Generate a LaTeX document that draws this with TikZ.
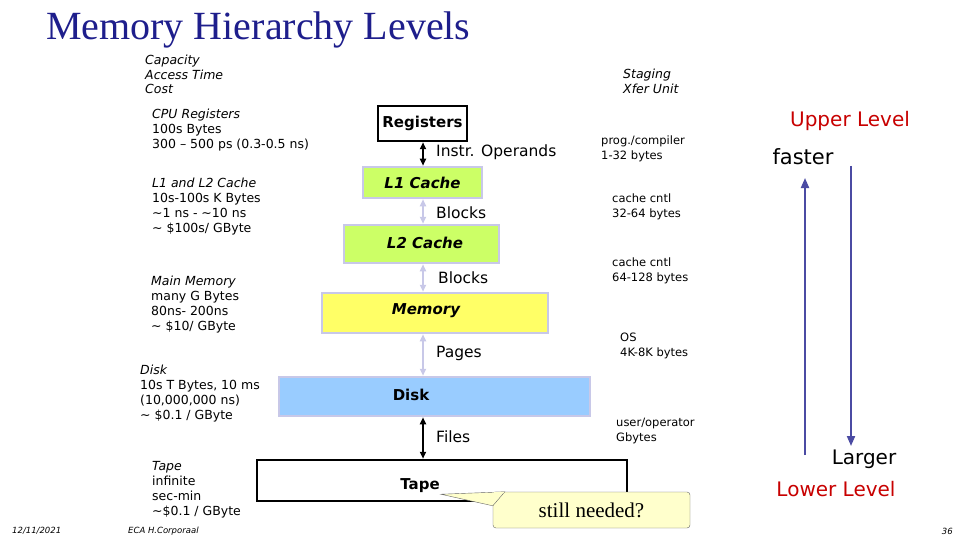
\documentclass[tikz,border=0pt]{standalone}
\usepackage{fontspec}
\setmainfont{DejaVu Sans}
\newfontfamily\serif{Liberation Serif}
\usetikzlibrary{arrows.meta}
\definecolor{tblue}{RGB}{30,30,140}
\definecolor{lgreen}{RGB}{204,255,102}
\definecolor{lyel}{RGB}{255,255,102}
\definecolor{lblue}{RGB}{153,204,255}
\definecolor{lav}{RGB}{200,200,232}
\definecolor{ured}{RGB}{200,0,0}
\definecolor{callout}{RGB}{255,255,204}
\begin{document}
\begin{tikzpicture}[x=1pt,y=-1pt,>={Triangle[length=7pt,width=6pt]},
  lvl/.style={draw=lav,line width=2.5pt,font=\bfseries\itshape\fontsize{15}{15}\selectfont,inner sep=0pt},
  blk/.style={draw=black,line width=2.5pt,fill=white,font=\bfseries\fontsize{15}{15}\selectfont,inner sep=0pt},
  lbl/.style={font=\fontsize{12.5}{15}\selectfont,align=left,anchor=north west,inner sep=0pt},
  ilbl/.style={font=\itshape\fontsize{12.5}{14.5}\selectfont,align=left,anchor=north west,inner sep=0pt},
  xf/.style={font=\fontsize{11.5}{14.5}\selectfont,align=left,anchor=north west,inner sep=0pt},
  mid/.style={font=\fontsize{15.5}{15.5}\selectfont,anchor=west,inner sep=0pt},
  blkarr/.style={<->,line width=2pt},
  ltarr/.style={<->,line width=2pt,draw=lav}]
\useasboundingbox (0,0) rectangle (960,540);
\fill[white] (0,0) rectangle (960,540);
\node[anchor=west,text=tblue,font=\serif\fontsize{40}{40}\selectfont,inner sep=0pt] (title) at (46,30) {Memory Hierarchy Levels};
\node[ilbl] (cap) at (145,55) {Capacity\\Access Time\\Cost};
\node[ilbl] (stg) at (623,69) {Staging\\Xfer Unit};
\node[lbl] (cpu) at (152,109) {\textit{CPU Registers}\\100s Bytes\\300 – 500 ps (0.3-0.5 ns)};
\node[lbl] (l12) at (152,178) {\textit{L1 and L2 Cache}\\10s-100s K Bytes\\\textasciitilde1 ns - \textasciitilde10 ns\\\textasciitilde{} \$100s/ GByte};
\node[lbl] (mm) at (151,276) {\textit{Main Memory}\\many G Bytes\\80ns- 200ns\\\textasciitilde{} \$10/ GByte};
\node[lbl] (dk) at (140,365) {\textit{Disk}\\10s T Bytes, 10 ms\\(10,000,000 ns)\\\textasciitilde{} \$0.1 / GByte};
\node[lbl] (tp) at (152,461) {\textit{Tape}\\infinite\\sec-min\\\textasciitilde\$0.1 / GByte};
% boxes
\node[blk,minimum width=89pt,minimum height=35pt] (reg) at (422.5,123.5) {Registers};
\node[lvl,fill=lgreen,minimum width=119pt,minimum height=31pt] (l1) at (422.5,182.5) {L1 Cache};
\node[lvl,fill=lgreen,minimum width=155pt,minimum height=38pt] (l2) at (421.5,244) {};
\node[font=\bfseries\itshape\fontsize{15}{15}\selectfont] (l2t) at (425,243) {L2 Cache};
\node[lvl,fill=lyel,minimum width=226pt,minimum height=40pt] (mem) at (435,313) {};
\node[font=\bfseries\itshape\fontsize{15}{15}\selectfont] (memt) at (426,311) {Memory};
\node[lvl,fill=lblue,minimum width=311pt,minimum height=39pt] (disk) at (434.5,396.5) {};
\node[font=\bfseries\fontsize{15}{15}\selectfont] (diskt) at (411,395) {Disk};
\node[blk,minimum width=370pt,minimum height=41pt] (tape) at (442,480.5) {};
\node[font=\bfseries\fontsize{15}{15}\selectfont,inner sep=1pt] (tapet) at (420,486) {Tape};
% arrows
\draw[blkarr] (reg.south -| 423,0) -- (l1.north -| 423,0);
\draw[ltarr] (l1.south -| 423,0) -- (l2.north -| 423,0);
\draw[ltarr] (l2.south -| 423,0) -- (mem.north -| 423,0);
\draw[ltarr] (mem.south -| 423,0) -- (disk.north -| 423,0);
\draw[blkarr] (disk.south -| 423,0) -- (tape.north -| 423,0);
\node[mid] (io) at (436,152) {Instr. Operands};
\node[mid] (b1) at (436,213) {Blocks};
\node[mid] (b2) at (438,278) {Blocks};
\node[mid] (pg) at (436,353) {Pages};
\node[mid] (fl) at (436,437) {Files};
% transfer units
\node[xf] (x1) at (601,136) {prog./compiler\\1-32 bytes};
\node[xf] (x2) at (612,194) {cache cntl\\32-64 bytes};
\node[xf] (x3) at (612,258) {cache cntl\\64-128 bytes};
\node[xf] (x4) at (620,333) {OS\\4K-8K bytes};
\node[xf] (x5) at (616,418) {user/operator\\Gbytes};
% right side
\node[text=ured,font=\fontsize{20}{20}\selectfont,inner sep=0pt] (up) at (850,121) {Upper Level};
\node[font=\fontsize{21}{21}\selectfont,inner sep=0pt] (fast) at (803,157) {faster};
\node[font=\fontsize{20}{20}\selectfont,inner sep=0pt] (larg) at (864,459) {Larger};
\node[text=ured,font=\fontsize{20}{20}\selectfont,inner sep=0pt] (low) at (836,489) {Lower Level};
\coordinate (ua) at (805,455); \coordinate (ub) at (805,178);
\coordinate (da) at (851,166); \coordinate (db) at (851,446);
\draw[-{Triangle[length=10pt,width=8pt]},line width=2pt,draw=tblue!80] (ua) -- (ub);
\draw[-{Triangle[length=10pt,width=8pt]},line width=2pt,draw=tblue!80] (da) -- (db);
% callout
\node[draw=black!60,fill=callout,rounded corners=3pt,minimum width=197pt,minimum height=36pt,inner sep=0pt,font=\serif\fontsize{21}{21}\selectfont] (cl) at (591.5,510) {still needed?};
\filldraw[draw=black!60,fill=callout] (tapet.south east) -- ([xshift=12pt]cl.north west) -- ([yshift=-14pt]cl.north west) -- cycle;
\draw[callout,line width=1.2pt] ([xshift=1pt,yshift=-1pt]cl.north west) -- ([xshift=11pt,yshift=-0.6pt]cl.north west);
% footer
\node[font=\itshape\fontsize{8.5}{8.5}\selectfont,anchor=west,inner sep=0pt] (date) at (12,531) {12/11/2021};
\node[font=\itshape\fontsize{8.5}{8.5}\selectfont,anchor=west,inner sep=0pt] (auth) at (128,531) {ECA H.Corporaal};
\node[font=\itshape\fontsize{8.5}{8.5}\selectfont,anchor=east,inner sep=0pt] (pgn) at (953,531) {36};
\end{tikzpicture}
\end{document}
